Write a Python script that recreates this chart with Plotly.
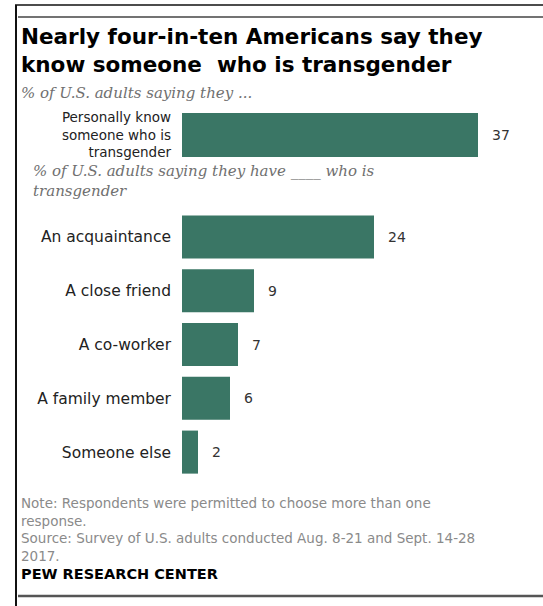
import plotly.graph_objects as go

# ---- data ----
top_categories = ["Personally know<br>someone who is<br>transgender"]
top_values = [37]
categories = ["An acquaintance", "A close friend", "A co-worker", "A family member", "Someone else"]
values = [24, 9, 7, 6, 2]

title_lines = ["Nearly four-in-ten Americans say they", "know someone  who is transgender"]
subtitle = "% of U.S. adults saying they ..."
subtitle2_lines = ["% of U.S. adults saying they have ____ who is", "transgender"]
note_lines = ["Note: Respondents were permitted to choose more than one", "response.",
              "Source: Survey of U.S. adults conducted Aug. 8-21 and Sept. 14-28", "2017."]
credit = "PEW RESEARCH CENTER"

# ---- style ----
W, H = 543, 606
BAR = "#3a7665"
SANS = "DejaVu Sans"
SERIF = "DejaVu Serif"


def px(x):
    return x / W


def py(y):
    return 1 - y / H


x0_px, x37_px = 182, 478
xmax = (W - x0_px) / ((x37_px - x0_px) / 37)

fig = go.Figure()
fig.add_trace(go.Bar(x=top_values, y=top_categories, orientation="h",
                     marker=dict(color=BAR, line=dict(width=0)),
                     xaxis="x", yaxis="y", hoverinfo="skip"))
fig.add_trace(go.Bar(x=values, y=categories, orientation="h",
                     marker=dict(color=BAR, line=dict(width=0)),
                     xaxis="x2", yaxis="y2", hoverinfo="skip"))

annotations = []
vfont = dict(family=SANS, size=14, color="#333")
for v, c in zip(top_values, top_categories):
    annotations.append(dict(x=v, y=c, xref="x", yref="y", text=str(v), showarrow=False,
                            xanchor="left", xshift=12, font=vfont))
for v, c in zip(values, categories):
    annotations.append(dict(x=v, y=c, xref="x2", yref="y2", text=str(v), showarrow=False,
                            xanchor="left", xshift=12, font=vfont))


def text(t, x, y, size, family=SANS, color="#000", bold=False, italic=False):
    annotations.append(dict(x=px(x), y=py(y), xref="paper", yref="paper", text=t, showarrow=False,
                            xanchor="left", yanchor="middle", align="left",
                            font=dict(family=family, size=size, color=color,
                                      weight="bold" if bold else "normal",
                                      style="italic" if italic else "normal")))


text("<br>".join(title_lines), 19, 51, 21.5, bold=True)
text(subtitle, 19, 93, 15, family=SERIF, color="#707070", italic=True)
text("<br>".join(subtitle2_lines), 31, 181, 15, family=SERIF, color="#707070", italic=True)
text("<br>".join(note_lines), 19, 529, 13.5, color="#8a8a8a")
text(credit, 19, 574, 14.5, bold=True)

shapes = [
    dict(type="line", xref="paper", yref="paper", x0=px(15), x1=1, y0=py(5), y1=py(5),
         line=dict(color="#111", width=1.5)),
    dict(type="line", xref="paper", yref="paper", x0=px(18), x1=1, y0=py(17), y1=py(17),
         line=dict(color="#444", width=1.5)),
    dict(type="line", xref="paper", yref="paper", x0=px(16), x1=px(16), y0=py(5), y1=0,
         line=dict(color="#111", width=2)),
    dict(type="line", xref="paper", yref="paper", x0=px(18), x1=1, y0=py(596), y1=py(596),
         line=dict(color="#555", width=2.5)),
]

axis_x = dict(range=[0, xmax], domain=[px(x0_px), 1], showgrid=False, zeroline=False,
              showticklabels=False, showline=False, fixedrange=True)
tickfont = dict(family=SANS, size=15.5, color="#222")

fig.update_layout(
    width=W, height=H, margin=dict(l=0, r=0, t=0, b=0),
    paper_bgcolor="white", plot_bgcolor="white",
    showlegend=False, bargap=0.2,
    xaxis=dict(axis_x, anchor="y"),
    xaxis2=dict(axis_x, anchor="y2"),
    yaxis=dict(domain=[py(162.5), py(107.5)], anchor="x", autorange="reversed",
               showgrid=False, zeroline=False, showline=False, ticks="",
               ticklabelstandoff=10, tickfont=dict(tickfont, size=13.5), fixedrange=True),
    yaxis2=dict(domain=[py(479), py(210)], anchor="x2", autorange="reversed",
                categoryorder="array", categoryarray=categories,
                showgrid=False, zeroline=False, showline=False, ticks="",
                ticklabelstandoff=10, tickfont=tickfont, fixedrange=True),
    annotations=annotations, shapes=shapes,
)

fig.write_html("out.html", config={"displayModeBar": False})
